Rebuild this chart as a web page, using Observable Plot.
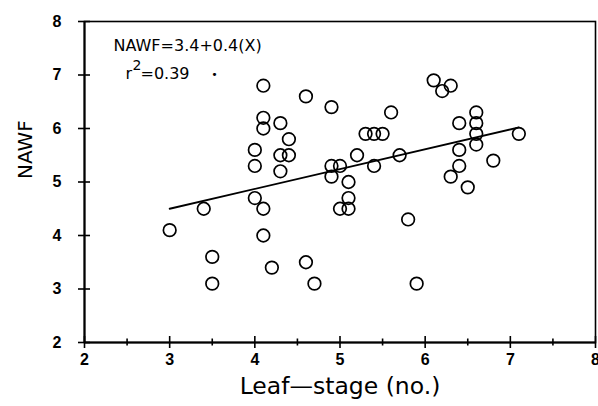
<!DOCTYPE html>
<html>
<head>
<meta charset="utf-8">
<script src="https://cdn.jsdelivr.net/npm/d3@7"></script>
<script src="https://cdn.jsdelivr.net/npm/@observablehq/plot@0.6"></script>
<style>
  html, body { margin: 0; padding: 0; background: #fff; }
  #chart svg { display: block; }
</style>
</head>
<body>
<div id="chart"></div>
<script>
// Leaf-stage (no.) values
const leafStage = [
  3.0, 3.4, 3.5, 3.5, 4.0, 4.0, 4.0, 4.1, 4.1, 4.1, 4.1, 4.1, 4.2, 4.3, 4.3, 4.3,
  4.4, 4.4, 4.6, 4.6, 4.7, 4.9, 4.9, 4.9, 5.0, 5.0, 5.1, 5.1, 5.1, 5.2, 5.3, 5.4,
  5.4, 5.5, 5.6, 5.7, 5.8, 5.9, 6.1, 6.2, 6.3, 6.3, 6.4, 6.4, 6.4, 6.5, 6.6, 6.6,
  6.6, 6.6, 6.8, 7.1
];
// NAWF values
const nawf = [
  4.1, 4.5, 3.6, 3.1, 5.6, 5.3, 4.7, 6.8, 6.2, 6.0, 4.5, 4.0, 3.4, 6.1, 5.5, 5.2,
  5.8, 5.5, 6.6, 3.5, 3.1, 6.4, 5.3, 5.1, 5.3, 4.5, 5.0, 4.7, 4.5, 5.5, 5.9, 5.9,
  5.3, 5.9, 6.3, 5.5, 4.3, 3.1, 6.9, 6.7, 6.8, 5.1, 6.1, 5.6, 5.3, 4.9, 6.3, 6.1,
  5.9, 5.7, 5.4, 5.9
];

// Regression line endpoints (as drawn)
const fitX = [3.0, 7.1];
const fitY = [4.5, 6.02];

// Axis ticks
const xTicks = [2, 3, 4, 5, 6, 7, 8];
const xMinorTicks = [2.5, 3.5, 4.5, 5.5, 6.5, 7.5];
const yTicks = [2, 3, 4, 5, 6, 7, 8];
const axisMin = 2;

const xTitle = "Leaf\u2014stage (no.)";
const yTitle = "NAWF";
const equationText = "NAWF=3.4+0.4(X)";

const points = leafStage.map((x, i) => ({x, y: nawf[i]}));
const fit = fitX.map((x, i) => ({x, y: fitY[i]}));

const font = "'DejaVu Sans', 'Liberation Sans', sans-serif";
const tickFont = "'Liberation Sans', Arial, sans-serif";

const chart = Plot.plot({
  width: 598,
  height: 406,
  marginLeft: 84,
  marginRight: 3,
  marginTop: 21,
  marginBottom: 64,
  style: {fontFamily: font, background: "#fff", color: "black"},
  x: {domain: [2, 8], label: null},
  y: {domain: [2, 8], label: null},
  marks: [
    Plot.frame({stroke: "black", strokeWidth: 1.6}),
    // tick labels
    Plot.axisX(xTicks, {tickSize: 0, tickPadding: 11, fontSize: 16, fontWeight: "bold", fontFamily: tickFont, fill: "black", tickFormat: d3.format("d")}),
    Plot.axisY(yTicks, {tickSize: 0, tickPadding: 23, fontSize: 16, fontWeight: "bold", fontFamily: tickFont, fill: "black", tickFormat: d3.format("d")}),
    // tick marks crossing the axes
    Plot.ruleX(xTicks, {x: d => d, y1: axisMin, y2: axisMin, insetTop: -6, insetBottom: -6, stroke: "black", strokeWidth: 1.6}),
    Plot.ruleX(xMinorTicks, {x: d => d, y1: axisMin, y2: axisMin, insetTop: -3.5, insetBottom: -3.5, stroke: "black", strokeWidth: 1.6}),
    Plot.ruleY(yTicks, {y: d => d, x1: axisMin, x2: axisMin, insetLeft: -6, insetRight: -6, stroke: "black", strokeWidth: 1.6}),
    Plot.ruleX([axisMin], {stroke: "black", strokeWidth: 2}),
    Plot.ruleY([axisMin], {stroke: "black", strokeWidth: 2}),
    // axis titles
    Plot.text([xTitle], {frameAnchor: "bottom", dy: 51.5, fontSize: 23.5, fill: "black", fontFamily: font}),
    Plot.text([yTitle], {frameAnchor: "left", dx: -59, dy: -3, rotate: -90, fontSize: 20, fill: "black", fontFamily: font}),
    // regression line
    Plot.line(fit, {x: "x", y: "y", stroke: "black", strokeWidth: 1.8}),
    // points
    Plot.dot(points, {x: "x", y: "y", r: 6.3, stroke: "black", strokeWidth: 1.7, fill: "none"}),
    // annotation
    Plot.text([equationText], {frameAnchor: "top-left", dx: 29, dy: 24, fontSize: 16, fill: "black", textAnchor: "start", lineAnchor: "middle"}),
    Plot.text(["r"], {frameAnchor: "top-left", dx: 41, dy: 52, fontSize: 16, fill: "black", textAnchor: "start", lineAnchor: "middle"}),
    Plot.text(["2"], {frameAnchor: "top-left", dx: 48, dy: 44, fontSize: 14, fill: "black", textAnchor: "start", lineAnchor: "middle"}),
    Plot.text(["=0.39"], {frameAnchor: "top-left", dx: 56, dy: 52, fontSize: 16, fill: "black", textAnchor: "start", lineAnchor: "middle"}),
    Plot.text(["\u2022"], {frameAnchor: "top-left", dx: 130, dy: 53, fontSize: 11, fill: "black", textAnchor: "middle", lineAnchor: "middle"})
  ]
});
document.getElementById("chart").appendChild(chart);
</script>
</body>
</html>
